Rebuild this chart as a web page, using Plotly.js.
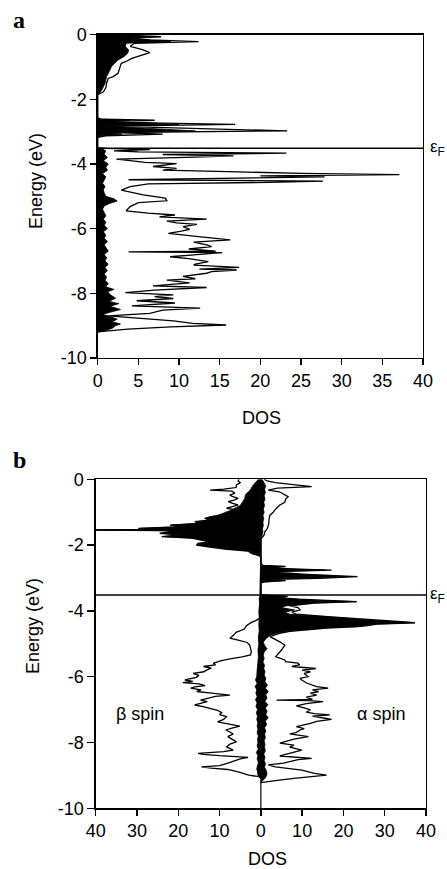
<!DOCTYPE html>
<html>
<head>
<meta charset="utf-8">
<script src="https://cdn.plot.ly/plotly-3.0.1.min.js"></script>
<style>html,body{margin:0;padding:0;background:#fff;}#chart{width:447px;height:869px;}</style>
</head>
<body>
<div id="chart"></div>
<script>
// ---------- data ----------
const EF = -3.52;
const energyTickVals = [0, -2, -4, -6, -8, -10];
const energyTickText = ['0', '-2', '-4', '-6', '-8', '-10'];
const dosTickValsA = [0, 5, 10, 15, 20, 25, 30, 35, 40];
const dosTickTextA = ['0', '5', '10', '15', '20', '25', '30', '35', '40'];
const dosTickValsB = [-40, -30, -20, -10, 0, 10, 20, 30, 40];
const dosTickTextB = ['40', '30', '20', '10', '0', '10', '20', '30', '40'];

// Panel a: total DOS (outline)
const eA_tot = [0,-0.03,-0.07,-0.12,-0.17,-0.22,-0.27,-0.37,-0.47,-0.56,-0.63,-0.74,-0.82,-0.89,-1.04,-1.2,-1.3,-1.36,-1.5,-1.65,-1.77,-1.82,-1.86,
  -2.58,-2.62,-2.65,-2.69,-2.74,-2.78,-2.83,-2.9,-2.98,-3.03,-3.08,-3.13,-3.18,
  -3.5,-3.52,-3.56,-3.6,-3.63,-3.67,-3.71,-3.75,-3.79,-3.85,-3.9,-3.95,-3.99,-4.03,-4.08,-4.14,-4.19,-4.24,-4.29,-4.33,
  -4.37,-4.4,-4.44,-4.49,-4.53,-4.57,-4.62,-4.7,-4.81,-4.96,-5.06,-5.14,-5.2,-5.32,-5.45,-5.52,-5.58,-5.64,-5.71,-5.77,
  -5.82,-5.87,-5.94,-6.02,-6.08,-6.15,-6.25,-6.35,-6.42,-6.5,-6.56,-6.63,-6.7,-6.72,-6.74,-6.8,-6.87,-6.93,-7.02,-7.1,
  -7.13,-7.2,-7.25,-7.28,-7.33,-7.38,-7.48,-7.55,-7.59,-7.68,-7.77,-7.82,-7.9,-7.98,-8.05,-8.1,-8.16,-8.23,-8.3,-8.39,
  -8.46,-8.52,-8.62,-8.7,-8.76,-8.85,-8.93,-8.98,-9.04,-9.11,-9.19];
const dosA_tot = [1.8,5,7.8,3.5,6.5,12.4,4.5,4.0,5.5,6.4,5.5,4.2,3.6,2.9,2.7,2.5,1.9,1.3,1.1,1.0,0.7,0.3,0,
  0,0.5,7,1,8,16.9,1.5,12,23.3,2,8,1,0,
  0,1.0,6.4,2.0,5,23.2,8,16.7,12,2.3,4,5.8,9.7,8.5,6.8,9.7,8,16,25,37.1,
  20,27.9,19,3.8,27.7,21,6.2,4,2.9,5.6,8.3,8.5,5,4.0,3.5,6.2,9.5,7.6,13.4,8.5,
  9.7,12.2,10.5,11.3,10.3,8.7,12.4,16.3,11.8,13.4,14.0,11.2,14.5,3.8,15.3,12,8.9,11.2,13.6,12.0,
  11.8,17.4,12.5,17.1,14,13.4,10.5,12,8.5,11.3,6.8,13.4,7.0,3.4,9.3,7,9.3,4.8,9.5,4.2,
  12.6,8,6.4,1.3,5,9.3,11.7,15.8,9,3.7,0];

// Panel a: partial DOS (filled)
const eA_fill = [0,-0.03,-0.07,-0.12,-0.17,-0.22,-0.27,-0.37,-0.48,-0.58,-0.69,-0.79,-0.89,-0.99,-1.1,-1.3,-1.51,-1.72,-1.86,
  -2.58,-2.62,-2.65,-2.69,-2.74,-2.78,-2.83,-2.9,-2.98,-3.03,-3.08,-3.13,-3.18,
  -3.5,-3.52,-3.6,-3.7,-3.8,-3.9,-4.0,-4.1,-4.2,-4.3,-4.4,-4.5,-4.6,-4.7,-4.8,-4.9,-5.0,-5.08,-5.15,-5.22,
  -5.3,-5.4,-5.5,-5.6,-5.7,-5.8,-5.9,-6.0,-6.1,-6.2,-6.3,-6.4,-6.5,-6.6,-6.7,-6.8,-6.9,-7.0,-7.1,-7.2,
  -7.3,-7.4,-7.5,-7.6,-7.7,-7.8,-7.88,-7.95,-8.05,-8.15,-8.25,-8.32,-8.4,-8.5,-8.58,-8.65,-8.72,-8.8,-8.88,-8.95,
  -9.0,-9.08,-9.15,-9.2];
const dosA_fill = [1.5,4,6.5,3,5.5,9,3.5,3.4,3.8,3.7,3.2,2.5,2.1,1.7,1.5,1.1,0.9,0.5,0,
  0,0.3,4,0.8,5,10,1,7,12,1.5,3,0.5,0,
  0,0.5,1.0,0.8,1.2,0.7,1.3,1.0,1.2,0.6,1.0,0.8,0.6,0.9,0.7,0.8,1.0,2.0,2.4,1.5,
  0.8,0.6,0.8,1.0,0.7,1.0,0.8,1.2,0.7,1.0,0.8,1.2,0.8,1.0,1.3,0.8,1.1,0.9,1.3,0.9,
  1.2,0.8,1.1,0.9,1.3,1.0,2.0,1.2,1.6,2.2,1.4,2.6,1.5,2.8,1.6,0.6,1.5,2.4,1.8,2.8,
  2.2,1.8,1.0,0];

// Panel b: beta spin total (magnitudes, drawn to the left)
const eB_betaTot = [0,-0.05,-0.1,-0.17,-0.25,-0.3,-0.33,-0.36,-0.42,-0.48,-0.53,-0.58,-0.63,-0.68,-0.73,-0.78,-0.83,-0.88,-0.93,-0.97,
  -1.03,-1.08,-1.14,-1.19,-1.24,-1.29,-1.34,-1.39,-1.44,-1.49,-1.52,-1.54,-1.56,-1.59,-1.64,-1.69,-1.74,-1.79,-1.85,-1.9,
  -1.95,-2.0,-2.05,-2.12,-2.18,-2.25,-2.32,-2.35,
  -4.22,-4.28,-4.35,-4.45,-4.55,-4.65,-4.75,-4.83,-4.89,-4.96,-5.04,-5.15,-5.24,-5.34,-5.4,-5.46,-5.51,-5.59,-5.64,-5.69,
  -5.74,-5.8,-5.85,-5.9,-5.96,-6.02,-6.06,-6.1,-6.14,-6.18,-6.22,-6.27,-6.31,-6.35,-6.4,-6.45,-6.5,-6.53,-6.56,-6.6,
  -6.65,-6.71,-6.76,-6.82,-6.86,-6.91,-6.96,-7.02,-7.09,-7.15,-7.21,-7.3,-7.37,-7.44,-7.5,-7.56,-7.62,-7.68,-7.74,-7.82,
  -7.9,-7.98,-8.05,-8.13,-8.23,-8.28,-8.33,-8.36,-8.4,-8.45,-8.5,-8.55,-8.63,-8.7,-8.74,-8.78,-8.82,-8.89,-8.94,-8.99,
  -9.04,-9.08];
const betaTot = [5.3,5.5,5.0,5.9,6.0,9,12.3,7,6.3,7.5,6.8,5.5,6.5,7.9,6.8,5.5,6.9,8.3,6.0,4.7,
  7.2,10.0,12.3,13.6,12.5,16.0,15,22.0,19,29.7,25,45,24,20.0,24.5,19.6,24.0,16.8,14.4,12.3,
  15.2,15.6,12.8,8.7,3.1,2.3,0.5,0,
  0.3,1.0,2.3,3.5,4.0,6.0,6.7,7.5,5.5,3.3,2.7,2.5,2.3,2.5,4.5,7.5,9.5,11.5,11.0,13.9,
  12.0,13.2,13.8,16.4,15.0,15.6,17.0,18.4,16.5,18.9,15.0,13.5,16.0,17.0,14.5,15.5,12.0,9.0,7.5,11.0,
  13.0,14.6,13.0,15.0,16.0,14.0,12.4,10.5,9.5,10.0,8.3,9.0,10.5,7.5,5.1,7.0,8.5,7.5,6.7,8.0,
  7.0,5.9,7.5,8.3,6.7,9.0,15.2,14.0,10.0,3.1,5.0,6.0,8.0,10.0,14.4,12.0,8.0,5.5,4.0,2.9,
  0.5,0];

// Panel b: beta spin partial (filled, magnitudes)
const eB_betaFill = [0,-0.05,-0.12,-0.2,-0.27,-0.35,-0.43,-0.5,-0.58,-0.65,-0.73,-0.8,-0.86,-0.93,-1.0,-1.05,-1.1,-1.14,-1.19,-1.24,
  -1.29,-1.34,-1.39,-1.44,-1.49,-1.52,-1.54,-1.56,-1.59,-1.64,-1.69,-1.74,-1.79,-1.85,-1.9,-1.95,-2.0,-2.05,-2.12,-2.18,
  -2.25,-2.32,-2.35,
  -3.52,-3.6,-3.8,-4.0,-4.2,-4.4,-4.6,-4.8,-5.0,-5.2,-5.4,-5.6,-5.8,-6.0,-6.1,-6.2,-6.3,-6.4,-6.5,-6.6,
  -6.7,-6.8,-6.9,-7.0,-7.1,-7.2,-7.3,-7.4,-7.5,-7.6,-7.7,-7.8,-7.9,-8.0,-8.1,-8.2,-8.3,-8.4,-8.5,-8.6,
  -8.7,-8.8,-8.9,-9.0,-9.05,-9.1];
const betaFill = [0.6,1.0,1.6,2.0,2.3,2.7,3.5,3.8,3.9,4.3,4.7,5.0,6.0,7.0,8.5,9.5,10.5,12.0,13.3,12.2,
  15.6,14.7,21.5,18.6,29,24.5,45,23.5,19.6,24,19.2,23.5,16.4,14,12,14.8,15.2,12.4,8.3,2.8,
  2.0,0.4,0,
  0,0.4,0.3,0.5,0.4,0.5,0.4,0.6,0.5,0.7,0.6,0.8,0.9,1.0,1.3,0.9,1.4,1.0,1.2,0.9,
  1.3,0.9,1.2,0.8,1.1,0.8,1.0,0.7,0.9,0.7,0.9,0.6,0.8,0.7,0.9,0.6,1.1,0.7,0.9,0.6,
  0.8,1.0,0.8,0.7,0.3,0];

// Panel b: alpha spin total (drawn to the right)
const eB_alphaTot = [0,-0.05,-0.1,-0.15,-0.22,-0.27,-0.33,-0.38,-0.48,-0.53,-0.6,-0.7,-0.78,-0.85,-0.93,-1.0,-1.09,-1.2,-1.35,-1.49,
  -1.59,-1.69,-1.78,-1.82,
  -2.55,-2.62,-2.65,-2.69,-2.73,-2.76,-2.81,-2.88,-2.96,-3.01,-3.04,-3.08,-3.12,-3.15,
  -3.5,-3.52,-3.56,-3.6,-3.64,-3.68,-3.72,-3.76,-3.8,-3.85,-3.9,-3.97,-4.04,-4.1,-4.18,-4.24,-4.28,-4.33,-4.36,-4.4,
  -4.45,-4.48,-4.52,-4.56,-4.62,-4.68,-4.78,-4.94,-5.04,-5.19,-5.29,-5.39,-5.49,-5.54,-5.59,-5.64,-5.69,-5.75,-5.8,-5.85,
  -5.9,-5.95,-6.0,-6.05,-6.1,-6.2,-6.3,-6.35,-6.4,-6.45,-6.5,-6.56,-6.62,-6.69,-6.71,-6.73,-6.76,-6.82,-6.89,-6.95,
  -7.01,-7.08,-7.12,-7.16,-7.2,-7.24,-7.3,-7.36,-7.42,-7.52,-7.58,-7.62,-7.7,-7.74,-7.82,-7.9,-7.96,-8.02,-8.08,-8.14,
  -8.23,-8.3,-8.36,-8.41,-8.48,-8.52,-8.58,-8.63,-8.68,-8.74,-8.84,-8.9,-8.94,-8.99,-9.05,-9.09,-9.15,-9.19,-9.22];
const alphaTot = [0.8,1.5,3.5,7,12.3,4,1.8,4.5,5.8,6.6,6.0,5.8,4.6,4.0,3.4,3.0,2.2,2.0,1.9,1.6,
  1.0,0.8,0.3,0,
  0,0.5,6,1,9,17.1,2,10,23.4,14,2,6,1,0,
  0,1.2,6.5,4.5,9,15,23.2,13,10.5,7,9,9.5,7.5,8.5,17,23,27.5,34,37.3,28,
  26,23.5,16,12,7,4.5,2.2,4.6,5.8,5.0,4.2,3.6,5.8,6.0,9,9.4,7.5,13.3,10,12,
  10.5,11.0,11.5,9.5,9.9,11.2,13.5,16.3,12.5,14,12,13.5,11,12.5,3.8,11.5,15.1,11,8.6,10.5,
  12.0,11,13,16.7,12.5,14.5,17.1,13.5,12.0,8.6,10.5,9.5,8.5,7.0,11.5,8.0,6.0,4.6,8.0,7.0,
  9.9,7.5,6.0,4.6,12.3,9.0,7.0,5.5,1.8,3.5,9.9,11.5,13.0,15.9,10,8.0,4.0,1.4,0];

// Panel b: alpha spin partial (filled)
const eB_alphaFill = [0,-0.1,-0.2,-0.3,-0.4,-0.5,-0.6,-0.7,-0.8,-0.9,-1.0,-1.1,-1.2,-1.3,-1.4,-1.5,-1.6,-1.7,-1.8,-1.85,
  -2.55,-2.62,-2.65,-2.69,-2.73,-2.76,-2.81,-2.88,-2.96,-3.01,-3.04,-3.08,-3.12,-3.15,
  -3.5,-3.52,-3.56,-3.6,-3.64,-3.68,-3.72,-3.76,-3.8,-3.85,-3.9,-3.97,-4.04,-4.1,-4.18,-4.24,-4.28,-4.33,-4.36,-4.4,
  -4.45,-4.48,-4.52,-4.56,-4.62,-4.68,-4.75,-4.85,-4.95,-5.05,-5.15,-5.25,-5.35,-5.45,-5.55,-5.65,-5.75,-5.85,-5.95,-6.05,
  -6.15,-6.25,-6.35,-6.45,-6.55,-6.65,-6.75,-6.85,-6.95,-7.05,-7.15,-7.25,-7.35,-7.45,-7.55,-7.65,-7.75,-7.85,-7.95,-8.05,
  -8.15,-8.25,-8.35,-8.45,-8.55,-8.65,-8.75,-8.85,-8.95,-9.05,-9.12,-9.2];
const alphaFill = [0.3,0.8,1.2,0.9,1.1,0.8,1.0,0.7,0.9,0.6,0.8,0.5,0.7,0.5,0.6,0.4,0.5,0.3,0.2,0,
  0,0.4,5,0.8,8,15.5,1.5,9,21,12,1.5,5,0.8,0,
  0,1.0,5.8,4.0,8.2,14,23.2,12,9.8,6,5,8.2,5.8,7.0,16.3,22,26.8,33,37.3,27.6,
  25,22.8,15,11.5,6.6,3.8,2.2,1.2,0.6,0.9,1.5,0.8,0.6,0.8,0.5,0.9,0.7,1.0,0.8,1.2,
  1.0,1.6,1.1,1.8,1.2,1.5,1.0,1.7,1.1,1.5,1.2,1.8,1.1,1.4,0.9,1.2,0.9,1.1,0.8,1.0,
  0.9,1.1,0.7,1.0,0.8,1.1,0.9,1.3,1.5,1.2,0.8,0];

// ---------- sanity ----------
[[eA_tot,dosA_tot,'A tot'],[eA_fill,dosA_fill,'A fill'],[eB_betaTot,betaTot,'b tot'],[eB_betaFill,betaFill,'b fill'],
 [eB_alphaTot,alphaTot,'a tot'],[eB_alphaFill,alphaFill,'a fill']].forEach(function(p){
  if (p[0].length !== p[1].length) throw new Error('length mismatch ' + p[2] + ' ' + p[0].length + ' vs ' + p[1].length);
});

// ---------- figure ----------
const W = 447, H = 869;
const px = v => v / W;
const py = v => 1 - v / H;
const FONT = 'Liberation Sans, Arial, Helvetica, sans-serif';
const neg = arr => arr.map(v => -v);

const lineTot = {color: '#000', width: 1.3};
const lineFill = {color: '#000', width: 0.8};

const traces = [
  {x: dosA_fill, y: eA_fill, xaxis: 'x', yaxis: 'y', mode: 'lines', fill: 'tozerox', fillcolor: '#000', line: lineFill, hoverinfo: 'skip'},
  {x: dosA_tot, y: eA_tot, xaxis: 'x', yaxis: 'y', mode: 'lines', line: lineTot, hoverinfo: 'skip'},
  {x: neg(betaFill), y: eB_betaFill, xaxis: 'x2', yaxis: 'y2', mode: 'lines', fill: 'tozerox', fillcolor: '#000', line: lineFill, hoverinfo: 'skip'},
  {x: alphaFill, y: eB_alphaFill, xaxis: 'x2', yaxis: 'y2', mode: 'lines', fill: 'tozerox', fillcolor: '#000', line: lineFill, hoverinfo: 'skip'},
  {x: neg(betaTot), y: eB_betaTot, xaxis: 'x2', yaxis: 'y2', mode: 'lines', line: lineTot, hoverinfo: 'skip'},
  {x: alphaTot, y: eB_alphaTot, xaxis: 'x2', yaxis: 'y2', mode: 'lines', line: lineTot, hoverinfo: 'skip'}
];

const axisCommon = {
  showline: true, mirror: true, linecolor: '#000', linewidth: 1.4,
  ticks: 'outside', tickcolor: '#000', tickwidth: 1.3,
  showgrid: false, zeroline: false,
  tickfont: {family: FONT, size: 18, color: '#000'},
  fixedrange: true
};

const layout = {
  width: W, height: H,
  margin: {l: 0, r: 0, t: 0, b: 0},
  paper_bgcolor: '#fff', plot_bgcolor: 'rgba(0,0,0,0)',
  showlegend: false,
  xaxis: Object.assign({}, axisCommon, {domain: [px(97.7), px(423)], range: [0, 40], anchor: 'y', ticklen: 6,
    tickmode: 'array', tickvals: dosTickValsA, ticktext: dosTickTextA}),
  yaxis: Object.assign({}, axisCommon, {domain: [py(358), py(34.5)], range: [-10, 0], anchor: 'x', ticklen: 6,
    tickmode: 'array', tickvals: energyTickVals, ticktext: energyTickText}),
  xaxis2: Object.assign({}, axisCommon, {domain: [px(95.7), px(426)], range: [-40, 40], anchor: 'y2', ticklen: 6,
    tickmode: 'array', tickvals: dosTickValsB, ticktext: dosTickTextB}),
  yaxis2: Object.assign({}, axisCommon, {domain: [py(808.3), py(479.3)], range: [-10, 0], anchor: 'x2', ticklen: 7,
    tickmode: 'array', tickvals: energyTickVals, ticktext: energyTickText}),
  shapes: [
    {type: 'line', xref: 'x', yref: 'y', x0: 0, x1: 40, y0: EF, y1: EF, line: {color: '#000', width: 1.5}},
    {type: 'line', xref: 'x2', yref: 'y2', x0: -40, x1: 40, y0: EF, y1: EF, line: {color: '#000', width: 1.5}},
    {type: 'line', xref: 'x2', yref: 'y2', x0: 0, x1: 0, y0: -10, y1: 0, line: {color: '#000', width: 1.2}}
  ],
  annotations: [
    {text: '<b>a</b>', xref: 'paper', yref: 'paper', x: px(11), y: py(20), xanchor: 'left', yanchor: 'middle', showarrow: false,
      font: {family: 'Liberation Serif, Times New Roman, serif', size: 24, color: '#000'}},
    {text: '<b>b</b>', xref: 'paper', yref: 'paper', x: px(11), y: py(460), xanchor: 'left', yanchor: 'middle', showarrow: false,
      font: {family: 'Liberation Serif, Times New Roman, serif', size: 24, color: '#000'}},
    {text: 'Energy (eV)', xref: 'paper', yref: 'paper', x: px(36), y: py(181), textangle: -90, xanchor: 'center', yanchor: 'middle', showarrow: false,
      font: {family: FONT, size: 18, color: '#000'}},
    {text: 'Energy (eV)', xref: 'paper', yref: 'paper', x: px(33), y: py(626), textangle: -90, xanchor: 'center', yanchor: 'middle', showarrow: false,
      font: {family: FONT, size: 18, color: '#000'}},
    {text: 'DOS', xref: 'paper', yref: 'paper', x: px(261), y: py(418), xanchor: 'center', yanchor: 'middle', showarrow: false,
      font: {family: FONT, size: 18, color: '#000'}},
    {text: 'DOS', xref: 'paper', yref: 'paper', x: px(267), y: py(859), xanchor: 'center', yanchor: 'middle', showarrow: false,
      font: {family: FONT, size: 18, color: '#000'}},
    {text: 'ε<sub>F</sub>', xref: 'paper', yref: 'y', x: px(428), y: EF, xanchor: 'left', yanchor: 'middle', showarrow: false,
      font: {family: FONT, size: 17, color: '#000'}},
    {text: 'ε<sub>F</sub>', xref: 'paper', yref: 'y2', x: px(428), y: EF, xanchor: 'left', yanchor: 'middle', showarrow: false,
      font: {family: FONT, size: 17, color: '#000'}},
    {text: 'β spin', xref: 'paper', yref: 'paper', x: px(140), y: py(714), xanchor: 'center', yanchor: 'middle', showarrow: false,
      font: {family: FONT, size: 18, color: '#000'}},
    {text: 'α spin', xref: 'paper', yref: 'paper', x: px(381), y: py(714), xanchor: 'center', yanchor: 'middle', showarrow: false,
      font: {family: FONT, size: 18, color: '#000'}}
  ]
};

Plotly.newPlot('chart', traces, layout, {staticPlot: true, displayModeBar: false});
</script>
</body>
</html>
